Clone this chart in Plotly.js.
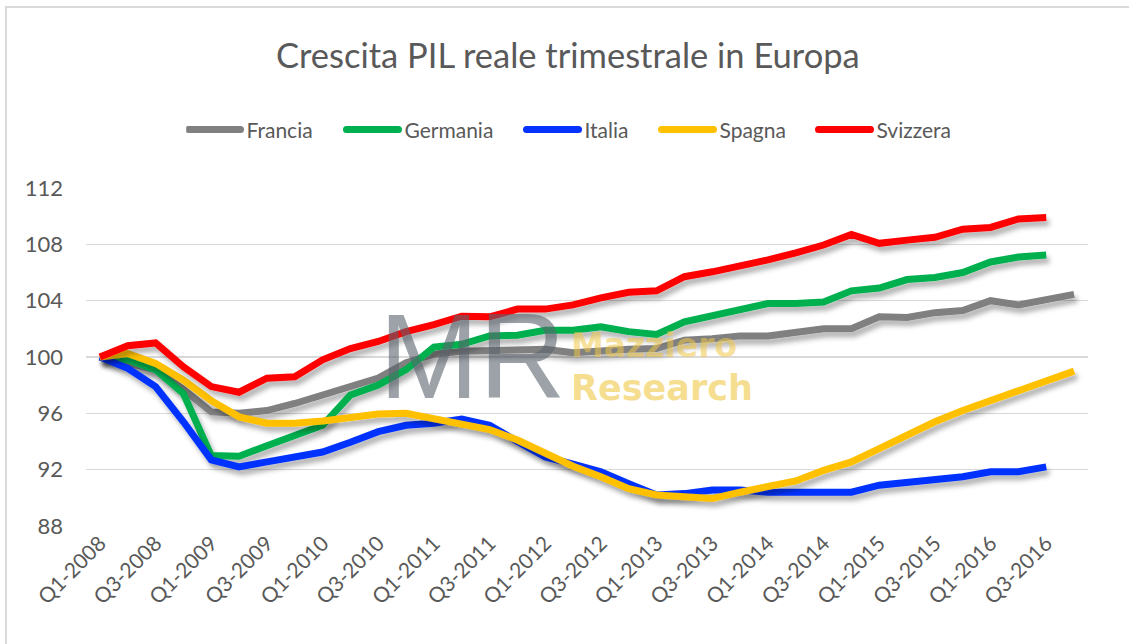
<!DOCTYPE html>
<html>
<head>
<meta charset="utf-8">
<script src="https://cdn.plot.ly/plotly-3.0.1.min.js"></script>
<style>
  html, body { margin: 0; padding: 0; background: #ffffff; }
  #wrap { position: absolute; left: 0; top: 0; width: 1129px; height: 644px; background: #fff; }
  #frame { position: absolute; left: 5px; top: 6px; width: 1200px; height: 700px; border-left: 2px solid #d9d9d9; border-top: 2px solid #d9d9d9; }
  #chart { position: absolute; left: 0; top: 0; width: 1129px; height: 644px; }
</style>
</head>
<body>
<div id="wrap">
  <div id="frame"></div>
  <div id="chart"></div>
</div>
<script>
const quarters = [
  'Q1-2008','Q2-2008','Q3-2008','Q4-2008',
  'Q1-2009','Q2-2009','Q3-2009','Q4-2009',
  'Q1-2010','Q2-2010','Q3-2010','Q4-2010',
  'Q1-2011','Q2-2011','Q3-2011','Q4-2011',
  'Q1-2012','Q2-2012','Q3-2012','Q4-2012',
  'Q1-2013','Q2-2013','Q3-2013','Q4-2013',
  'Q1-2014','Q2-2014','Q3-2014','Q4-2014',
  'Q1-2015','Q2-2015','Q3-2015','Q4-2015',
  'Q1-2016','Q2-2016','Q3-2016','Q4-2016'
];
const tickLabels = [
  'Q1-2008','Q3-2008','Q1-2009','Q3-2009','Q1-2010','Q3-2010',
  'Q1-2011','Q3-2011','Q1-2012','Q3-2012','Q1-2013','Q3-2013',
  'Q1-2014','Q3-2014','Q1-2015','Q3-2015','Q1-2016','Q3-2016'
];
const francia = [100, 99.5, 99.1, 97.7, 96.1, 96.0, 96.2, 96.7, 97.3, 97.9, 98.5, 99.6,
  100.2, 100.4, 100.45, 100.55, 100.55, 100.3, 100.45, 100.55, 100.6, 101.2, 101.3, 101.5,
  101.5, 101.7, 102.0, 102.0, 102.85, 102.8, 103.15, 103.3, 104.0, 103.7, 104.1, 104.45];
const germania = [100, 99.8, 99.1, 97.4, 93.0, 92.95, 93.7, 94.45, 95.15, 97.3, 98.0, 99.1,
  100.7, 100.9, 101.5, 101.55, 101.9, 101.9, 102.15, 101.8, 101.6, 102.5, 102.9, 103.3,
  103.8, 103.8, 103.9, 104.7, 104.9, 105.5, 105.65, 106.0, 106.75, 107.1, 107.25];
const italia = [100, 99.2, 97.9, 95.4, 92.7, 92.2, 92.55, 92.9, 93.25, 93.95, 94.7, 95.15,
  95.3, 95.6, 95.15, 94.0, 92.9, 92.4, 91.85, 91.0, 90.2, 90.3, 90.55, 90.55,
  90.4, 90.4, 90.4, 90.4, 90.9, 91.1, 91.3, 91.5, 91.85, 91.85, 92.2];
const spagna = [100, 100.25, 99.55, 98.35, 96.9, 95.75, 95.3, 95.3, 95.45, 95.7, 95.95, 96.0,
  95.6, 95.28, 94.85, 94.1, 93.15, 92.25, 91.5, 90.65, 90.2, 90.1, 89.95, 90.4,
  90.75, 91.2, 91.95, 92.55, 93.5, 94.45, 95.4, 96.2, 96.9, 97.7, 98.35, 99.0];
const svizzera = [100, 100.8, 101.0, 99.3, 97.9, 97.5, 98.5, 98.6, 99.8, 100.6, 101.1, 101.8,
  102.3, 102.9, 102.85, 103.4, 103.4, 103.7, 104.2, 104.6, 104.7, 105.7, 106.05, 106.45,
  106.9, 107.4, 107.95, 108.7, 108.07, 108.3, 108.5, 109.07, 109.2, 109.8, 109.9];
const yTicks = [88, 92, 96, 100, 104, 108, 112];

const seriesNames = ['Francia', 'Germania', 'Italia', 'Spagna', 'Svizzera'];
const seriesData = [francia, germania, italia, spagna, svizzera];
const seriesColors = ['#808080', '#00b050', '#0433ff', '#ffc000', '#ff0000'];

const traces = seriesNames.map((n, i) => ({
  type: 'scatter',
  mode: 'lines',
  name: n,
  x: quarters.slice(0, seriesData[i].length),
  y: seriesData[i],
  line: { color: seriesColors[i], width: 7, shape: 'linear' },
  hoverinfo: 'skip'
}));

const txt = '#595959';
const fam = 'Lato, "Open Sans", sans-serif';
const layout = {
  width: 1129,
  height: 644,
  paper_bgcolor: 'rgba(0,0,0,0)',
  plot_bgcolor: 'rgba(0,0,0,0)',
  margin: { l: 86, r: 41, t: 188, b: 118 },
  title: {
    text: 'Crescita PIL reale trimestrale in Europa',
    font: { family: fam, size: 34.5, color: txt },
    x: 0.503, xanchor: 'center', y: 0.913, yanchor: 'middle'
  },
  showlegend: true,
  legend: {
    orientation: 'h',
    x: 0.1, xanchor: 'left',
    y: 1.172, yanchor: 'middle',
    font: { family: fam, size: 21, color: txt },
    itemwidth: 30,
    entrywidth: 118,
    entrywidthmode: 'pixels',
    traceorder: 'normal'
  },
  xaxis: {
    type: 'category',
    categoryorder: 'array',
    categoryarray: quarters,
    range: [-0.5, 35.5],
    tickmode: 'array',
    tickvals: tickLabels,
    ticktext: tickLabels,
    tickangle: -45,
    tickfont: { family: fam, size: 21, color: txt },
    showgrid: false,
    zeroline: false,
    showline: false,
    ticks: ''
  },
  yaxis: {
    range: [88, 112],
    tickmode: 'array',
    tickvals: yTicks,
    ticktext: yTicks.map(String),
    tickfont: { family: fam, size: 22, color: txt },
    showgrid: true,
    gridcolor: '#d9d9d9',
    gridwidth: 1.5,
    zeroline: false,
    showline: false,
    ticks: '',
    ticklabelstandoff: 22
  },
  annotations: [
    { text: 'MR', xref: 'paper', yref: 'paper', x: 0.29, y: 0.502, xanchor: 'left', yanchor: 'middle',
      showarrow: false, font: { family: '"Liberation Sans", Arial, sans-serif', size: 120, color: 'rgba(90,100,110,0.6)' } },
    { text: '<b>Mazziero</b>', xref: 'paper', yref: 'paper', x: 0.482, y: 0.535, xanchor: 'left', yanchor: 'middle',
      showarrow: false, font: { family: '"DejaVu Sans", sans-serif', size: 33, color: 'rgba(240,200,70,0.55)' } },
    { text: '<b>Research</b>', xref: 'paper', yref: 'paper', x: 0.482, y: 0.408, xanchor: 'left', yanchor: 'middle',
      showarrow: false, font: { family: '"DejaVu Sans", sans-serif', size: 35, color: 'rgba(240,200,70,0.6)' } }
  ]
};

const legendStarts = [192, 350, 530, 665, 822];

Plotly.newPlot('chart', traces, layout, { staticPlot: true, displayModeBar: false }).then(function (gd) {
  const svg = gd.querySelector('svg.main-svg');
  const ns = 'http://www.w3.org/2000/svg';
  let defs = svg.querySelector('defs');
  if (!defs) { defs = document.createElementNS(ns, 'defs'); svg.insertBefore(defs, svg.firstChild); }
  const f = document.createElementNS(ns, 'filter');
  f.setAttribute('id', 'lineshadow');
  f.setAttribute('filterUnits', 'userSpaceOnUse');
  f.setAttribute('x', '-300'); f.setAttribute('y', '-300');
  f.setAttribute('width', '1800'); f.setAttribute('height', '1200');
  const ds = document.createElementNS(ns, 'feDropShadow');
  ds.setAttribute('dx', '3'); ds.setAttribute('dy', '5');
  ds.setAttribute('stdDeviation', '2.5');
  ds.setAttribute('flood-color', '#000'); ds.setAttribute('flood-opacity', '0.3');
  f.appendChild(ds);
  defs.appendChild(f);
  gd.querySelectorAll('.scatterlayer .trace path.js-line').forEach(function (p) {
    p.setAttribute('filter', 'url(#lineshadow)');
  });

  // Legend styling: longer rounded symbols, spacing like the reference
  const svgRect = svg.getBoundingClientRect();
  const items = gd.querySelectorAll('.legend .traces');
  items.forEach(function (g, i) {
    const line = g.querySelector('path.js-line');
    const text = g.querySelector('text.legendtext');
    if (!line || !text) return;
    line.setAttribute('d', 'M0,0h52');
    line.style.strokeLinecap = 'round';
    line.style.strokeWidth = '7px';
    text.setAttribute('x', '58');
    const m = /translate\(([-\d.]+)[ ,]+([-\d.]+)\)/.exec(g.getAttribute('transform') || '');
    const tx = m ? parseFloat(m[1]) : 0;
    const ty = m ? parseFloat(m[2]) : 0;
    const lr = line.getBoundingClientRect();
    const curStart = lr.left - svgRect.left + 3.5;
    const target = legendStarts[i] !== undefined ? legendStarts[i] : curStart;
    g.setAttribute('transform', 'translate(' + (tx + target - curStart) + ',' + ty + ')');
  });
});
</script>
</body>
</html>
